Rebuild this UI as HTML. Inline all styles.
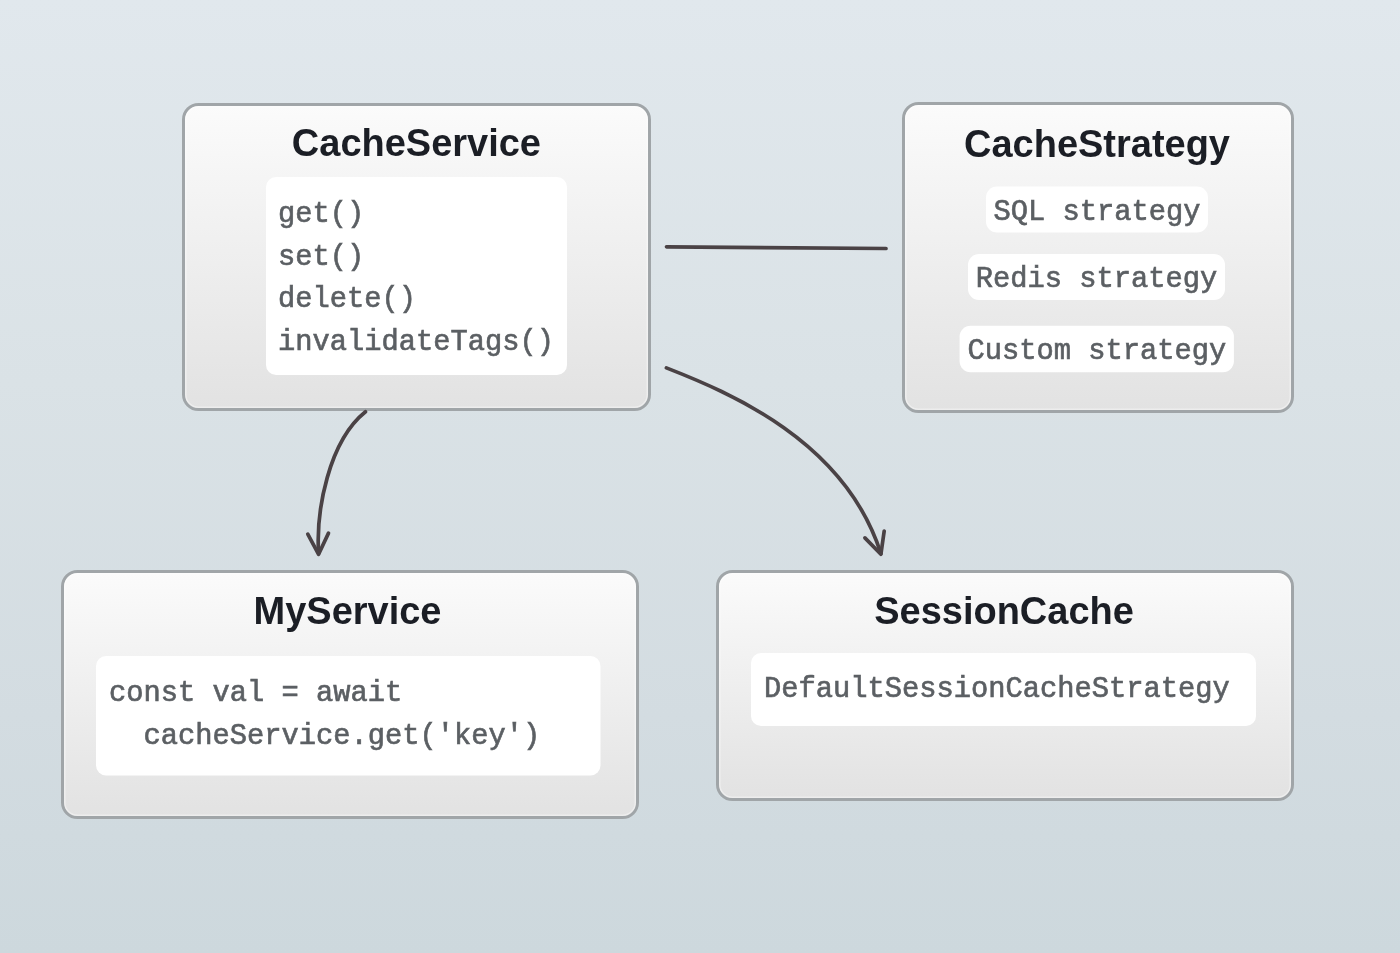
<!DOCTYPE html>
<html>
<head>
<meta charset="utf-8">
<style>
html,body{margin:0;padding:0;width:1400px;height:953px;overflow:hidden;}
body{background:linear-gradient(to bottom,#e1e8ed 0%,#dae2e6 40%,#d3dce1 75%,#cdd8dd 100%);}
svg{position:absolute;left:0;top:0;display:block;will-change:transform;}
.t{font-family:"Liberation Sans",sans-serif;font-weight:bold;font-size:38px;fill:#1b1e25;}
.m{font-family:"Liberation Mono",monospace;font-size:28.75px;fill:#5b5f63;stroke:#5b5f63;stroke-width:0.65px;}
</style>
</head>
<body>
<svg width="1400" height="953" viewBox="0 0 1400 953">
<defs>
<linearGradient id="bx" x1="0" y1="0" x2="0" y2="1">
<stop offset="0" stop-color="#fbfbfb"/>
<stop offset="1" stop-color="#e2e2e2"/>
</linearGradient>
</defs>

<!-- CacheService -->
<rect x="183.5" y="104.5" width="466" height="305" rx="15" fill="url(#bx)" stroke="#a0a5a8" stroke-width="3"/>
<rect x="185.8" y="106.8" width="461.5" height="300.5" rx="12.5" fill="none" stroke="#ffffff" stroke-opacity="0.4" stroke-width="1.5"/>
<text class="t" transform="translate(416.4,156) scale(1,1.037)" x="0" y="0" text-anchor="middle">CacheService</text>
<rect x="266" y="177" width="301" height="198" rx="10" fill="#ffffff"/>
<text class="m" x="278" y="222">get()</text>
<text class="m" x="278" y="264.6">set()</text>
<text class="m" x="278" y="307.4">delete()</text>
<text class="m" x="278" y="350.2">invalidateTags()</text>

<!-- CacheStrategy -->
<rect x="903.5" y="103.5" width="389" height="308" rx="15" fill="url(#bx)" stroke="#a0a5a8" stroke-width="3"/>
<rect x="905.8" y="105.8" width="384.5" height="303.5" rx="12.5" fill="none" stroke="#ffffff" stroke-opacity="0.4" stroke-width="1.5"/>
<text class="t" transform="translate(1097,157) scale(1,1.037)" x="0" y="0" text-anchor="middle">CacheStrategy</text>
<rect x="986" y="186.5" width="222" height="46" rx="11" fill="#ffffff"/>
<text class="m" x="1097" y="220.3" text-anchor="middle">SQL strategy</text>
<rect x="968" y="254" width="257" height="46" rx="11" fill="#ffffff"/>
<text class="m" x="1096.5" y="287" text-anchor="middle">Redis strategy</text>
<rect x="959.6" y="325.7" width="274.3" height="46.5" rx="11" fill="#ffffff"/>
<text class="m" x="1096.8" y="359" text-anchor="middle">Custom strategy</text>

<!-- MyService -->
<rect x="62.5" y="571.5" width="575" height="246" rx="15" fill="url(#bx)" stroke="#a0a5a8" stroke-width="3"/>
<rect x="64.8" y="573.8" width="570.5" height="241.5" rx="12.5" fill="none" stroke="#ffffff" stroke-opacity="0.4" stroke-width="1.5"/>
<text class="t" transform="translate(347.5,624.2) scale(1,1.037)" x="0" y="0" text-anchor="middle">MyService</text>
<rect x="96" y="656" width="504.5" height="119.5" rx="10" fill="#ffffff"/>
<text class="m" x="109" y="701" xml:space="preserve">const val = await</text>
<text class="m" x="109" y="744" xml:space="preserve">  cacheService.get('key')</text>

<!-- SessionCache -->
<rect x="717.5" y="571.5" width="575" height="228" rx="15" fill="url(#bx)" stroke="#a0a5a8" stroke-width="3"/>
<rect x="719.8" y="573.8" width="570.5" height="223.5" rx="12.5" fill="none" stroke="#ffffff" stroke-opacity="0.4" stroke-width="1.5"/>
<text class="t" transform="translate(1004,624.3) scale(1,1.037)" x="0" y="0" text-anchor="middle">SessionCache</text>
<rect x="751" y="653" width="505" height="73" rx="10" fill="#ffffff"/>
<text class="m" x="764" y="697">DefaultSessionCacheStrategy</text>

<!-- connectors -->
<g fill="none" stroke="#4a4245" stroke-width="3.7" stroke-linecap="round" stroke-linejoin="round">
<path d="M666.5,246.8 L886,248.5"/>
<path d="M365.5,411.8 C328.7,441.2 315.9,510.7 318.6,553.5"/>
<path d="M307.8,534.1 L318.6,554.3 L328.5,533.1"/>
<path d="M666.4,367.9 C729.7,392.7 844.8,440.9 880.9,553.5"/>
<path d="M864.9,537.9 L880.9,554.3 L884.2,531.1"/>
</g>
</svg>
</body>
</html>
